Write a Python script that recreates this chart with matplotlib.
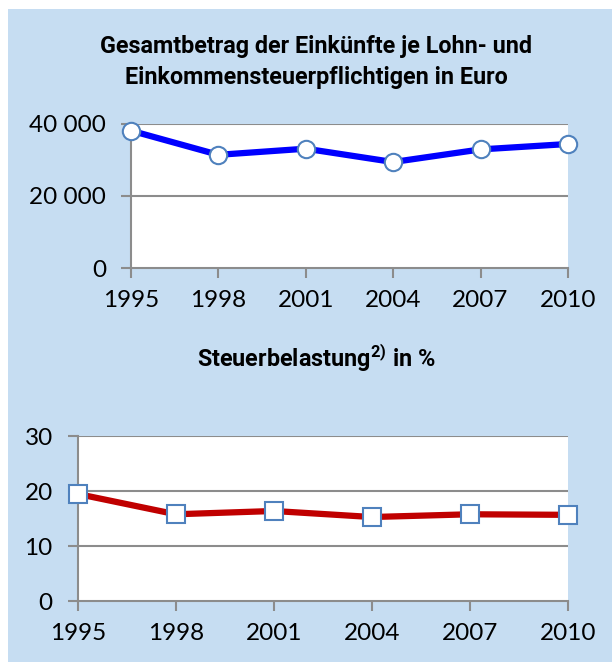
import matplotlib.pyplot as plt
from matplotlib.patches import Rectangle

# Daten
jahre = ['1995', '1998', '2001', '2004', '2007', '2010']
einkuenfte = [38100, 31400, 33100, 29400, 32900, 34400]
steuerbelastung = [19.5, 15.8, 16.4, 15.3, 15.8, 15.7]

y1_ticks = [0, 20000, 40000]
y1_labels = ['0', '20 000', '40 000']
y2_ticks = [0, 10, 20, 30]

titel1 = 'Gesamtbetrag der Einkünfte je Lohn- und\nEinkommensteuerpflichtigen in Euro'
titel2 = 'Steuerbelastung$^{\\mathbf{2)}}$ in %'

panel = '#c6ddf2'
grau = '#8c8c8c'
kante = '#4f81bd'

plt.rcParams['font.family'] = ['Lato', 'DejaVu Sans']
plt.rcParams['mathtext.fontset'] = 'custom'
plt.rcParams['mathtext.bf'] = 'Roboto:bold'
plt.rcParams['mathtext.rm'] = 'Roboto'

fig = plt.figure(figsize=(6.12, 6.62), dpi=100)
fig.patches.append(Rectangle((8 / 612, 0), 1, 1 - 9 / 662, transform=fig.transFigure,
                             facecolor=panel, edgecolor='none', zorder=-10))


def achse(ax, werte, ticks, labels, farbe, marker, ms):
    x = list(range(len(jahre)))
    ax.set_facecolor('white')
    for t in ticks[1:]:
        ax.axhline(t, color=grau, lw=1.5, zorder=1)
    ax.plot(x, werte, color=farbe, lw=4.5, marker=marker, ms=ms,
            mfc='white', mec=kante, mew=1.5, clip_on=False, zorder=3)
    ax.set_xlim(0, len(jahre) - 1)
    ax.set_ylim(ticks[0], ticks[-1])
    ax.set_xticks(x)
    ax.set_xticklabels(jahre)
    ax.set_yticks(ticks)
    ax.set_yticklabels(labels)
    for s in ['top', 'right']:
        ax.spines[s].set_visible(False)
    for s in ['left', 'bottom']:
        ax.spines[s].set_color(grau)
        ax.spines[s].set_linewidth(1.5)
    ax.tick_params(axis='both', colors=grau, labelcolor='black', labelsize=17.5,
                   length=7, width=1.5)
    ax.tick_params(axis='x', pad=9)
    ax.tick_params(axis='y', pad=11)


ax1 = fig.add_axes([0.214, 0.595, 0.714, 0.218])
achse(ax1, einkuenfte, y1_ticks, y1_labels, '#0000ff', 'o', 12.5)

ax2 = fig.add_axes([0.127, 0.092, 0.801, 0.249])
achse(ax2, steuerbelastung, y2_ticks, [str(t) for t in y2_ticks], '#c00000', 's', 13.5)

titelfont = ['Roboto', 'DejaVu Sans']
fig.text(0.517, 1 - 62 / 662, titel1, ha='center', va='center', fontsize=16.8,
         fontweight='bold', family=titelfont, linespacing=1.4)
fig.text(0.517, 1 - 358 / 662, titel2, ha='center', va='center', fontsize=16.8,
         fontweight='bold', family=titelfont)

fig.savefig('out.png', dpi=100)
